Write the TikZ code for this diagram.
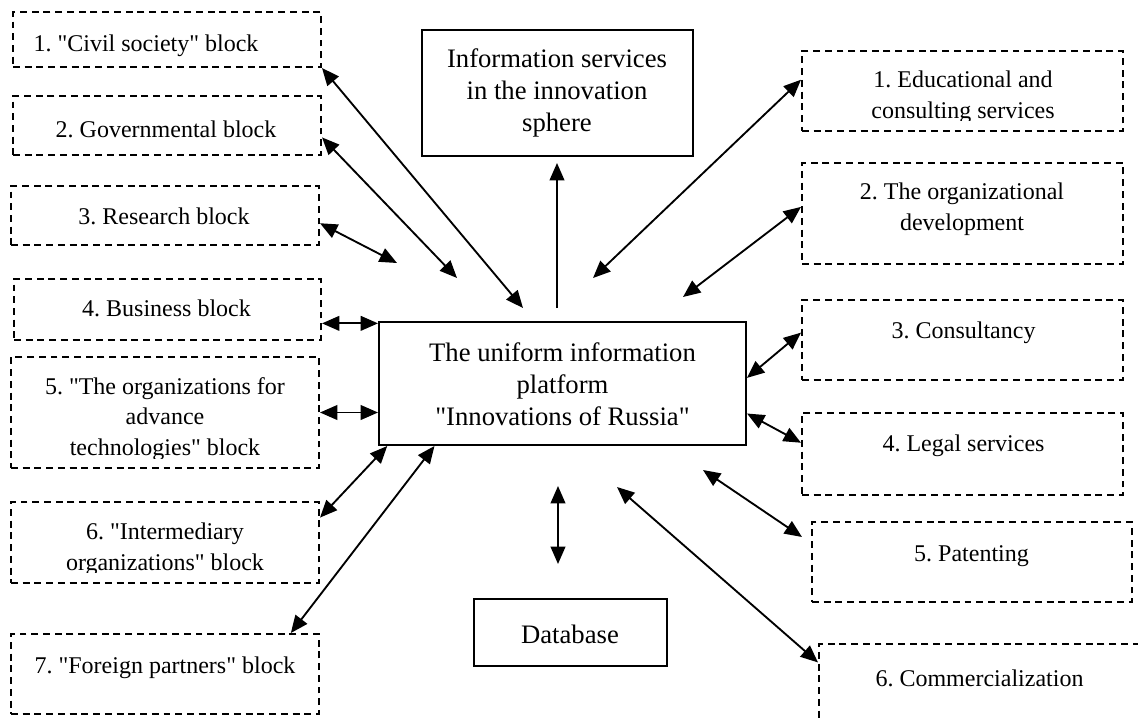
\documentclass[tikz,border=0pt]{standalone}
\usepackage{fontspec}
\setmainfont{Liberation Serif}[Ligatures=TeXOff]
\frenchspacing
\usetikzlibrary{arrows.meta,calc,fit}
\begin{document}
\begin{tikzpicture}[x=0.75pt,y=-0.75pt,
  dbox/.style={draw, dash pattern=on 5.2pt off 3.6pt, line width=1.5pt, inner sep=0pt},
  sbox/.style={draw, line width=1.5pt, inner sep=0pt},
  txt/.style={align=center, inner sep=0pt, font=\fontsize{18}{23}\selectfont},
  txtb/.style={align=center, inner sep=0pt, font=\fontsize{20}{24}\selectfont},
  biarr/.style={line width=1.4pt, {Triangle[length=13pt,width=11pt]}-{Triangle[length=13pt,width=11pt]}},
  uparr/.style={line width=1.4pt, -{Triangle[length=13pt,width=11pt]}}]
\useasboundingbox (0,0) rectangle (1138,721);
\clip (0,0) rectangle (1138,721);

% left boxes
\node[dbox, fit={(13,12) (321,67)}] (l1) {};
\node[dbox, fit={(13,96) (321,155)}] (l2) {};
\node[dbox, fit={(11,186) (319,245)}] (l3) {};
\node[dbox, fit={(14,279) (321,340)}] (l4) {};
\node[dbox, fit={(11,357) (319,468)}] (l5) {};
\node[dbox, fit={(11,502) (319,583)}] (l6) {};
\node[dbox, fit={(11,634) (319,714)}] (l7) {};

\node[txt] (l1t) at (146,46) {1. "Civil society" block};
\node[txt] (l2t) at (166,129) {2. Governmental block};
\node[txt] (l3t) at (164,216) {3. Research block};
\node[txt] (l4t) at (166.5,308) {4. Business block};
\begin{scope}
\clip (11,357) rectangle (319,458);
\node[txt] (l5t) at (165,419) {5. "The organizations for\\advance\\technologies" block};
\end{scope}
\begin{scope}
\clip (11,502) rectangle (319,572);
\node[txt] (l6t) at (165,549) {6. "Intermediary\\organizations" block};
\end{scope}
\node[txt] (l7t) at (165,668) {7. "Foreign partners" block};

% right boxes
\node[dbox, fit={(802,51) (1123,131)}] (r1) {};
\node[dbox, fit={(802,163) (1123,264)}] (r2) {};
\node[dbox, fit={(802,300) (1123,380)}] (r3) {};
\node[dbox, fit={(802,413) (1123,495)}] (r4) {};
\node[dbox, fit={(812,522) (1132,602)}] (r5) {};
\node[dbox, fit={(819,644) (1145,735)}] (r6) {};

\begin{scope}
\clip (802,51) rectangle (1123,120);
\node[txt] (r1t) at (963,97) {1. Educational and\\consulting services};
\end{scope}
\node[txt] (r2t) at (962,209) {2. The organizational\\development};
\node[txt] (r3t) at (963.5,333) {3. Consultancy};
\node[txt] (r4t) at (963.5,446) {4. Legal services};
\node[txt] (r5t) at (971.5,556) {5. Patenting};
\node[txt] (r6t) at (979.5,678) {6. Commercialization};

% centre boxes
\node[sbox, fit={(422,30) (693,156)}] (info) {};
\node[txtb] (infot) at (557,92.5) {Information services\\in the innovation\\sphere};
\node[sbox, fit={(379,322) (746,445)}] (plat) {};
\node[txtb] (platt) at (562.5,384) {The uniform information\\platform\\"Innovations of Russia"};
\node[sbox, fit={(474,599) (667,666)}] (db) {};
\node[txtb] (dbt) at (570,634) {Database};

% free ends
\coordinate (a1) at (523,308);
\coordinate (a2) at (457,278);
\coordinate (a3) at (397,263);
\coordinate (u1) at (557,308);
\coordinate (u2) at (557,163);
\coordinate (d1) at (558,486);
\coordinate (d2) at (558,564);
\coordinate (b1) at (593,278);
\coordinate (b2) at (683,297);
\coordinate (b5a) at (802,537);
\coordinate (b5b) at (703,470);
\coordinate (b6) at (617,487);

% left connectors
\draw[biarr] (l1.south east) -- (a1);
\draw[biarr] ($(l2.north east)!0.695!(l2.south east)$) -- (a2);
\draw[biarr] ($(l3.north east)!0.627!(l3.south east)$) -- (a3);
\path ($(l4.north east)!0.72!(l4.south east)$) coordinate (a4);
\draw[biarr] (a4) -- (a4 -| plat.west);
\draw[biarr] (l5.east) -- (l5.east -| plat.west);
\draw[biarr] ($(l6.north east)!0.2!(l6.south east)$) -- ($(plat.south west)!0.025!(plat.south east)$);
\draw[biarr] ($(plat.south west)!0.153!(plat.south east)$) -- ($(l7.north west)!0.906!(l7.north east)$);

% centre connectors
\draw[uparr] (u1) -- (u2);
\draw[biarr] (d1) -- (d2);

% right connectors
\draw[biarr] ($(r1.north west)!0.3625!(r1.south west)$) -- (b1);
\draw[biarr] ($(r2.north west)!0.436!(r2.south west)$) -- (b2);
\draw[biarr] ($(r3.north west)!0.41!(r3.south west)$) -- ($(plat.north east)!0.455!(plat.south east)$);
\draw[biarr] ($(r4.north west)!0.366!(r4.south west)$) -- ($(plat.north east)!0.74!(plat.south east)$);
\draw[biarr] (b5a) -- (b5b);
\draw[biarr] ($(r6.north west)!0.209!(r6.south west)$) -- (b6);
\end{tikzpicture}
\end{document}
